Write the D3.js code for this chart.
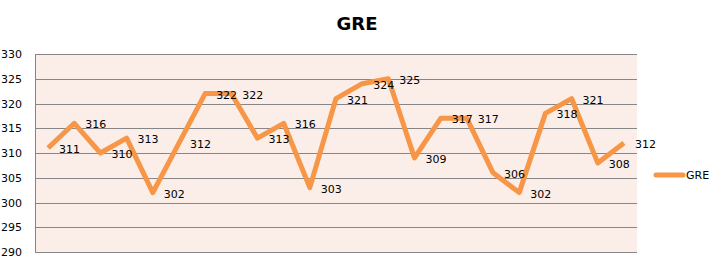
<!DOCTYPE html>
<html>
<head>
<meta charset="utf-8">
<script src="https://cdn.jsdelivr.net/npm/d3@7"></script>
<style>
  body { margin: 0; background: #fff; }
  text { font-family: "DejaVu Sans", sans-serif; fill: #000; }
</style>
</head>
<body>
<div id="chart"></div>
<script>
// GRE scores, one per student
var categories = d3.range(1, 24);
var gre = [311, 316, 310, 313, 302, 312, 322, 322, 313, 316, 303, 321, 324, 325, 309, 317, 317, 306, 302, 318, 321, 308, 312];
var yTicks = [290, 295, 300, 305, 310, 315, 320, 325, 330];
var seriesName = "GRE";

var width = 716, height = 260;
var margin = {top: 54, right: 79, bottom: 8, left: 35};
var plotW = width - margin.left - margin.right,
    plotH = height - margin.top - margin.bottom;

var svg = d3.select("#chart").append("svg")
    .attr("width", width)
    .attr("height", height);

svg.append("text")
    .attr("x", 357)
    .attr("y", 30)
    .attr("text-anchor", "middle")
    .style("font-size", "18px")
    .style("font-weight", "bold")
    .text(seriesName);

var x = d3.scaleBand().domain(categories).range([0, plotW]);
var y = d3.scaleLinear().domain([290, 330]).range([plotH, 0]);

var g = svg.append("g")
    .attr("transform", "translate(" + margin.left + "," + margin.top + ")");

g.append("rect")
    .attr("width", plotW)
    .attr("height", plotH)
    .attr("fill", "#fbede7");

// gridlines
g.selectAll(".grid")
    .data(yTicks)
  .enter().append("line")
    .attr("x1", 0).attr("x2", plotW)
    .attr("y1", function(d) { return Math.round(y(d)) + 0.5; })
    .attr("y2", function(d) { return Math.round(y(d)) + 0.5; })
    .attr("stroke", "#868686")
    .attr("stroke-width", 1);

g.append("line")
    .attr("x1", 0.5).attr("x2", 0.5)
    .attr("y1", 0).attr("y2", plotH)
    .attr("stroke", "#868686");

// y tick labels
var yAxis = d3.axisLeft(y).tickValues(yTicks).tickSize(0).tickPadding(13);
g.append("g").call(yAxis)
    .call(function(s) { s.select(".domain").remove(); })
    .selectAll("text")
    .style("font-size", "11px")
    .style("font-family", "DejaVu Sans, sans-serif");

var line = d3.line()
    .x(function(d, i) { return x(categories[i]) + x.bandwidth() / 2; })
    .y(function(d) { return y(d); });

g.append("path")
    .datum(gre)
    .attr("d", line)
    .attr("fill", "none")
    .attr("stroke", "#f79646")
    .attr("stroke-width", 5)
    .attr("stroke-linejoin", "round");

g.selectAll(".lbl")
    .data(gre)
  .enter().append("text")
    .attr("x", function(d, i) { return x(categories[i]) + x.bandwidth() / 2 + 11; })
    .attr("y", function(d) { return y(d) + 5; })
    .style("font-size", "11px")
    .text(function(d) { return d; });

// legend
svg.append("line")
    .attr("x1", 656).attr("x2", 683)
    .attr("y1", 175).attr("y2", 175)
    .attr("stroke", "#f79646")
    .attr("stroke-width", 5)
    .attr("stroke-linecap", "round");
svg.append("text")
    .attr("x", 686)
    .attr("y", 179)
    .style("font-size", "11px")
    .text(seriesName);
</script>
</body>
</html>
